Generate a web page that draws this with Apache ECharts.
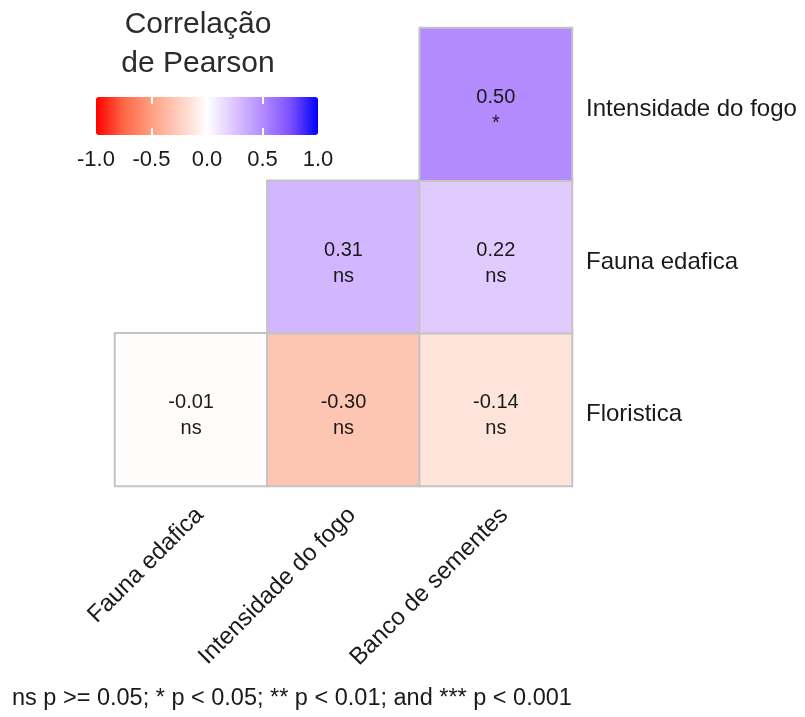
<!DOCTYPE html>
<html>
<head>
<meta charset="utf-8">
<script src="https://cdn.jsdelivr.net/npm/echarts@6/dist/echarts.min.js"></script>
<style>
  html, body { margin: 0; padding: 0; background: #ffffff; }
  #chart { width: 805px; height: 717px; }
</style>
</head>
<body>
<div id="chart"></div>
<script>
// Variables on each axis
var colVars = ['Fauna edafica', 'Intensidade do fogo', 'Banco de sementes'];
var rowVars = ['Floristica', 'Fauna edafica', 'Intensidade do fogo'];

// Pearson coefficients, one array per row (left to right over colVars; null = not shown)
var rFloristica = [-0.01, -0.30, -0.14];
var rFaunaEdafica = [null, 0.31, 0.22];
var rIntensidadeFogo = [null, null, 0.50];

// Significance codes for the same cells
var sigFloristica = ['ns', 'ns', 'ns'];
var sigFaunaEdafica = [null, 'ns', 'ns'];
var sigIntensidadeFogo = [null, null, '*'];

// Colour scale ticks
var scaleTicks = [-1.0, -0.5, 0.0, 0.5, 1.0];

var FONT = '"Liberation Sans", Arial, sans-serif';
var INK = '#1a1a1a';

var rowsR = [rFloristica, rFaunaEdafica, rIntensidadeFogo];
var rowsSig = [sigFloristica, sigFaunaEdafica, sigIntensidadeFogo];
var cells = [];
rowsR.forEach(function (row, yi) {
  row.forEach(function (v, xi) {
    if (v === null) return;
    cells.push({ value: [xi, yi, v], sig: rowsSig[yi][xi] });
  });
});

var chart = echarts.init(document.getElementById('chart'), null, { renderer: 'canvas' });

chart.setOption({
  backgroundColor: '#ffffff',
  animation: false,
  textStyle: { fontFamily: FONT },
  grid: [
    { left: 115, right: 233, top: 28, bottom: 231 },
    { left: 96, width: 222, top: 97, height: 38 }
  ],
  xAxis: [
    {
      gridIndex: 0, type: 'category', data: colVars, position: 'bottom',
      axisLine: { show: false }, axisTick: { show: false }, splitLine: { show: false },
      axisLabel: {
        rotate: 45, margin: 17, align: 'right', verticalAlign: 'top',
        fontSize: 24, color: INK, fontFamily: FONT, interval: 0
      }
    },
    {
      gridIndex: 1, type: 'value', min: -1, max: 1, interval: 0.5, position: 'bottom',
      z: 10,
      axisLine: { show: false }, splitLine: { show: false },
      axisTick: { show: true, inside: true, length: 7, customValues: [-0.5, 0, 0.5],
        lineStyle: { color: '#ffffff', width: 2 } },
      axisLabel: { show: true, margin: 14, fontSize: 22, color: INK, fontFamily: FONT,
        customValues: scaleTicks,
        formatter: function (v) { return v.toFixed(1); } }
    },
    {
      gridIndex: 1, type: 'value', min: -1, max: 1, interval: 0.5, position: 'top',
      z: 10,
      axisLine: { show: false }, splitLine: { show: false },
      axisTick: { show: true, inside: true, length: 7, customValues: [-0.5, 0, 0.5],
        lineStyle: { color: '#ffffff', width: 2 } },
      axisLabel: { show: false }
    }
  ],
  yAxis: [
    {
      gridIndex: 0, type: 'category', data: rowVars, position: 'right',
      axisLine: { show: false }, axisTick: { show: false }, splitLine: { show: false },
      axisLabel: { margin: 14, fontSize: 24, color: INK, fontFamily: FONT,
        verticalAlign: 'top', lineHeight: 10 }
    },
    {
      gridIndex: 1, type: 'value', min: 0, max: 1, show: false
    }
  ],
  visualMap: {
    type: 'continuous',
    seriesIndex: 0,
    min: -1, max: 1,
    orient: 'horizontal',
    left: 96, top: 97,
    padding: 0,
    itemWidth: 38,
    itemHeight: 222,
    calculable: false,
    realtime: false,
    hoverLink: false,
    text: null,
    showLabel: false,
    inRange: {
      color: ['#FF0000', '#FF6746', '#FF9E81', '#FFCFBF', '#FFFFFF',
              '#DCC4FF', '#B38BFF', '#7E51FF', '#0000FF']
    },
    z: 1
  },
  graphic: [
    {
      type: 'text',
      style: {
        text: 'Correlação\nde Pearson', x: 198, y: 5, align: 'center',
        font: '30px ' + FONT, fill: '#2b2b2b', lineHeight: 39
      }
    },
    {
      type: 'text',
      style: {
        text: 'ns p >= 0.05; * p < 0.05; ** p < 0.01; and *** p < 0.001',
        x: 12, y: 699, verticalAlign: 'middle',
        font: '23.5px ' + FONT, fill: INK
      }
    }
  ],
  series: [
    {
      type: 'heatmap',
      xAxisIndex: 0, yAxisIndex: 0,
      data: cells,
      itemStyle: { borderColor: '#c4c4c4', borderWidth: 2 },
      label: {
        show: true,
        color: INK,
        fontSize: 20,
        lineHeight: 26,
        fontFamily: FONT,
        offset: [0, 6],
        formatter: function (p) {
          return p.value[2].toFixed(2) + '\n' + p.data.sig;
        }
      },
      emphasis: { disabled: true }
    }
  ]
});
</script>
</body>
</html>
